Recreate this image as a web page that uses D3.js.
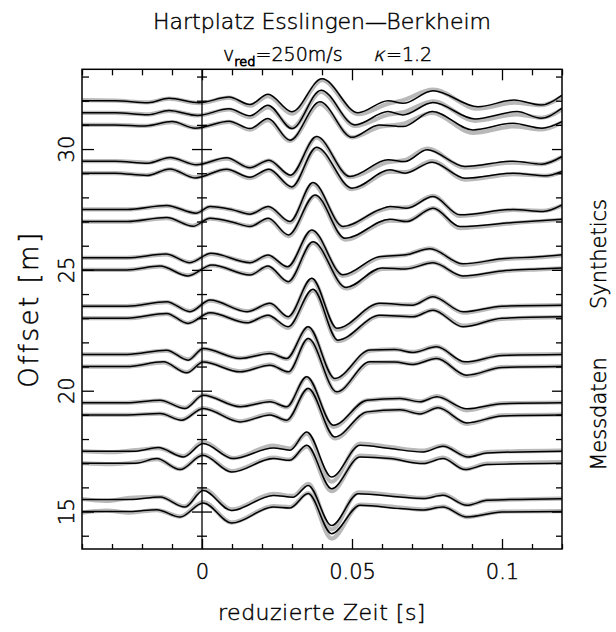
<!DOCTYPE html>
<html><head><meta charset="utf-8">
<script src="https://cdn.jsdelivr.net/npm/d3@7"></script>
<style>
html,body{margin:0;padding:0;background:#fff;}
svg{display:block;font-family:"DejaVu Sans",sans-serif;}
svg text{font-weight:200;fill:#000;stroke:#000;stroke-width:0.45px;}
</style></head><body>
<svg id="chart" width="616" height="632"></svg>
<script>
// Trace offsets (m), one wiggle trace per offset
const offsets = [32, 31.5, 31, 29.5, 29, 27.5, 27, 25.5, 25, 23.5, 23, 21.5, 21, 19.5, 19, 17.5, 17, 15.5, 15];

// Turning points of each trace: reduced time in ms
const knotMs = [
  [-40,-29,-18,-11,-1,9,16,22,30,40,52,62,67,77,92,104,113,120],
  [-40,-29,-18,-11,-1.5,9,16,22,30,39.7,51,62,67,77,91,105,113,120],
  [-40,-29,-19,-10,-2.3,9,16,22,29.3,39.3,50,59,67,76.7,90.3,103.7,113.3,120],
  [-40,-29,-18,-10.7,-1.8,8.2,16,22.3,29.5,38.2,49.3,62,67.7,75,87.7,103.7,113.3,120],
  [-40,-29,-18.4,-10.7,-2.3,8.2,16,22.3,29.9,38.2,50,62.7,67.7,76.7,87.7,103.7,114.7,120],
  [-40,-25,-11.8,-2,2.7,10.3,16,22.1,29.3,37,47,59.3,62.7,68.3,77,86,103.7,113.7,120],
  [-40,-25,-11.8,-3,2.7,10.3,16,22.1,28.8,37.7,47.7,62.7,68.3,77,86,103.7,120],
  [-40,-25,-12,-4,3,16,22,28.5,36.6,47,59,68,76,87,100,112,120],
  [-40,-25,-14,-4.7,3.3,16,22,28.7,37,48,60,68,77,87,100,112,120],
  [-40,-25,-11.8,-4,2.7,15,22.7,28.7,36.6,45,59.3,70.3,77,87,100,120],
  [-40,-25,-11.8,-4.7,2.7,15,22,28.7,37,45.3,59.3,70.3,77,87,100,120],
  [-40,-25,-11.8,-4.6,0.4,12.7,22.7,28.2,35.4,44.3,56,64.3,70.3,78.2,87.7,100,120],
  [-40,-25,-12.9,-5.1,0.4,12.7,22.7,28.8,35.4,44.9,56,64.3,70.3,78.2,88.2,100,120],
  [-40,-25,-14,-5.7,0.4,12.7,22.7,28.2,34.9,43.8,55,66,72.7,78.3,88.3,100,120],
  [-40,-25,-14,-6.8,0.4,12.7,22.7,28.2,35.4,44.3,55,66,72.7,78.7,88.3,100,120],
  [-40,-30,-22,-14.6,-6.2,0.4,10.4,23.8,29.3,34.9,43.2,52.7,62.7,73.7,80.3,88.7,95,120],
  [-40,-30,-22,-15.1,-7.3,0.3,9.9,23.8,29.3,34.9,43.2,52.7,62.7,73.7,80.3,87.7,95,120],
  [-40,-32,-24,-14,-5.7,0.4,9.9,23.8,30.4,35.4,43.2,52.1,66,73.7,80.3,88.3,95,120],
  [-40,-32,-24,-15.1,-7.3,0.4,9.9,23.8,29.3,35.4,43.2,52.7,66,73.7,80.3,88.3,100,120]
];

// Synthetic seismogram amplitudes at the turning points (trace units)
const synthetics = [
  [0,0,-2,2.4,-2,3.7,-3.8,6.5,-11,22,-12,0,-2.6,10,-6,0.7,-4.3,5.7],
  [0,0,-2,2.3,-2.7,4,-3,7.6,-15.8,22.6,-12.1,1.2,-2.1,10.2,-6.1,1.2,-5.4,4.6],
  [0,0,-1,3.3,-3.3,3.7,-3.7,6.3,-15.3,23,-12.3,0,-1.7,13.3,-5,1.7,-3.3,3.3],
  [0,0,-2,3.7,-3.7,3.3,-6.7,1,-14,24.5,-15.4,1.3,-0.4,11.3,-5.4,0,-3,4.6],
  [0,0,-2.3,4.3,-4.7,4,-4,4,-13.7,26,-15,3.4,0,11,-5,0,-2.6,1.7],
  [0,0,4,-3.7,3,-0.4,-4.7,3,-12,26.9,-17,0,3,1.3,12.9,-5.4,0,-2,4.6],
  [0,0,4,-4.7,3.3,-0.7,-5,3.3,-13.4,26.6,-16.7,2.3,0,13.3,-5,-1,2.3],
  [0,0,3.8,-4.9,4.5,-4.9,2.8,-9,27.8,-17,1,3,9,-6,-1,1,3],
  [0,0,3.9,-6.1,4.9,-5.1,3.9,-11.8,28,-17.5,2,1,7,-6,-1,1,2],
  [0,0,4.4,-5.6,6,-5.6,2.8,-10.6,27.8,-22.2,2.8,1,9.4,-5.6,0,1],
  [0,0,4.8,-5.2,5.4,-4.6,3,-8.6,29,-21.9,3,1.4,8,-8.6,0,1.4],
  [0,0,4.3,-5.7,6,-4,1,-4,27.6,-24,4.5,5,2,7.6,-7.4,-1,0],
  [0,0,4.7,-6.3,4.5,-5.3,1.4,-5.3,28,-25.3,4.7,4.5,2,8,-8.6,-1,0],
  [0,0,2.6,-5.7,7.5,-4,1,-4,26,-22.4,2.6,4.3,1,6,-6,-1,0],
  [0,0,1.3,-5.3,6.4,-7,0,-5.3,26.4,-22,3,5,1,7,-8,-1,0],
  [0,0,0,3.6,-5.8,7.6,-7.4,3.2,0.9,19.2,-25.8,5.9,2.6,-0.8,4.9,-5.8,-1.8,0],
  [0,0,0,4.6,-6.4,7.9,-8.8,4.6,2.9,17.9,-25.4,6.2,4.6,-0.4,4.6,-6.4,-1.4,0],
  [0,0,0,2.4,-7.6,9,-11,4,2.3,14,-26,5.7,2.4,1,4.1,-5.9,-0.9,0.8],
  [0,0,0,1.9,-5.5,8.5,-11.5,4.5,3.5,17.9,-22.1,6.2,3,1.5,4.5,-5.5,-0.5,0]
];

// Recorded field data (Messdaten) at the same turning points (trace units)
const messdaten = [
  [0.5,0,-1.6,2,-2.4,3,-5,4.5,-13,20.5,-13.5,-3,0.5,11,-8,-2,-4.5,4],
  [0,0,-1.6,2,-2.6,3.3,-4.4,5.5,-15,21,-13,-2,0.5,11.5,-8,-1.5,-5,3.6],
  [0,0,-1,2.8,-3,3,-4.8,4.8,-16,21,-12.5,-2,1,12,-8,-1.5,-4.5,2.5],
  [0,0,-1.6,3.2,-3.4,2.5,-6.5,0.5,-15,23.5,-16,-1,1,12.5,-6.5,-1.5,-3,4.2],
  [0,0,-1.8,3.8,-4.2,3.5,-5,3,-14.5,24.5,-16,1.5,1,12,-6.5,-1,-2.6,1.2],
  [0,0,3.5,-3.5,2.5,-0.5,-4.2,2,-13,25.5,-18,-1,1.5,2,13.5,-6.5,-0.5,-1.5,4],
  [0,0,3.5,-4.2,3,-1,-4.5,2.2,-14.5,25.5,-18,1,0.5,13.5,-6.5,-1.5,1.8],
  [0,0,3.4,-4.5,4,-4.5,2,-10,26.5,-18,0,3,9.5,-7,-1.5,0.5,2.5],
  [0,0,3.5,-5.5,4.4,-4.6,3,-12.5,27,-18.5,1,1.5,7.5,-7,-1.5,0.5,1.5],
  [0,0,4,-5,5.5,-5,2.2,-11.5,26.5,-23.5,2,1.5,9.8,-6.5,-0.5,1],
  [0,0,4.3,-4.8,5,-4.2,2.4,-9.6,27.5,-23,2.2,1.8,8.4,-7.5,-0.6,1],
  [0,0,3.8,-5,5.5,-3.6,1.6,-4.5,26.5,-25,3.8,5,2.5,8,-8.5,-0.5,0.4],
  [0,0,4.2,-5.6,4.8,-4.8,2,-6,27,-26,4,4.5,2.5,8.5,-9.5,-0.6,0.3],
  [0,0,2.2,-5,7.8,-3.6,1.6,-4.6,25,-24,2.4,4.5,1.4,6.6,-7.5,-0.5,0.3],
  [0,0,1.2,-4.8,6.8,-6.4,0.8,-5.8,25.5,-23.5,2.4,5,1.5,7.5,-9,-0.5,0.3],
  [0,-1,1,3,-5,9,-7,5.5,2.5,17.5,-30.5,7.6,4,0.5,5.5,-5.5,-1,0.5],
  [0,-1,1,4,-6,8.5,-8,5.5,3.5,16.5,-28,7.5,5,0.5,5.5,-6,-0.5,1],
  [0.5,-1.5,1.5,2.5,-7,10.5,-10,5.5,3.5,15.5,-30,7,3.5,1.5,5,-5.5,-1,0.8],
  [-1,1,-1,1.5,-5,9.5,-11,5.5,4.5,18.5,-27,7,4,2,5,-5.5,0,0.5]
];

// Axis ranges, ticks and labels
const timeDomain = [-0.04, 0.12];
const offsetDomain = [13.45, 33.3];
const xMajorTicks = [0, 0.05, 0.1];
const xTickLabels = ["0", "0.05", "0.1"];
const xMinorTicks = [-0.04, -0.03, -0.02, -0.01, 0.01, 0.02, 0.03, 0.04, 0.06, 0.07, 0.08, 0.09, 0.11, 0.12];
const yMajorTicks = [15, 20, 25, 30];
const yTickLabels = ["15", "20", "25", "30"];
const yMinorTicks = [14, 16, 17, 18, 19, 21, 22, 23, 24, 26, 27, 28, 29, 31, 32, 33];
const traceGain = 1 / 24.14;   // metres of offset per trace unit

const svg = d3.select("#chart");
const frame = {left: 82, right: 562, top: 69.3, bottom: 549};

const x = d3.scaleLinear().domain(timeDomain).range([frame.left, frame.right]);
const y = d3.scaleLinear().domain(offsetDomain).range([frame.bottom, frame.top]);

svg.append("defs").append("clipPath").attr("id", "plotclip")
  .append("rect").attr("x", frame.left).attr("y", frame.top)
  .attr("width", frame.right - frame.left).attr("height", frame.bottom - frame.top);

// wiggle traces
const line = d3.line()
  .x(d => x(d[0] / 1000))
  .y(d => y(d[1]))
  .curve(d3.curveMonotoneX);

const traces = svg.append("g").attr("clip-path", "url(#plotclip)");
const pts = (i, amps) => knotMs[i].map((t, k) => [t, offsets[i] + amps[k] * traceGain]);

traces.selectAll("path.meas").data(offsets).join("path")
  .attr("class", "meas")
  .attr("d", (d, i) => line(pts(i, messdaten[i])))
  .attr("fill", "none").attr("stroke", "#b9b9b9").attr("stroke-width", 4.2)
  .attr("stroke-linejoin", "round");

traces.selectAll("path.syn").data(offsets).join("path")
  .attr("class", "syn")
  .attr("d", (d, i) => line(pts(i, synthetics[i])))
  .attr("fill", "none").attr("stroke", "#000").attr("stroke-width", 1.5)
  .attr("stroke-linejoin", "round");

// zero-time line
svg.append("line")
  .attr("x1", x(0)).attr("x2", x(0)).attr("y1", frame.top).attr("y2", frame.bottom)
  .attr("stroke", "#000").attr("stroke-width", 1.3);

// axes (ticks point inward)
function styleAxis(g) {
  g.select(".domain").remove();
  g.selectAll(".tick line").attr("stroke", "#000").attr("stroke-width", 1.3);
}
const ax = (gen, tx, ty) => svg.append("g").attr("transform", `translate(${tx},${ty})`).call(gen).call(styleAxis);

ax(d3.axisBottom(x).tickValues(xMinorTicks).tickSize(-5).tickFormat(""), 0, frame.bottom);
const xLab = ax(d3.axisBottom(x).tickValues(xMajorTicks).tickSize(-10).tickPadding(15)
  .tickFormat((d, i) => xTickLabels[i]), 0, frame.bottom);
xLab.attr("font-family", null).attr("font-size", null);
xLab.selectAll("text").attr("font-family", "DejaVu Sans").attr("font-size", 21).attr("fill", "#000");
ax(d3.axisTop(x).tickValues(xMinorTicks).tickSize(-6).tickFormat(""), 0, frame.top);
ax(d3.axisTop(x).tickValues(xMajorTicks).tickSize(-11).tickFormat(""), 0, frame.top);

ax(d3.axisLeft(y).tickValues(yMinorTicks).tickSize(-7).tickFormat(""), frame.left, 0);
ax(d3.axisLeft(y).tickValues(yMajorTicks).tickSize(-12).tickFormat(""), frame.left, 0);
ax(d3.axisRight(y).tickValues(yMinorTicks).tickSize(-6).tickFormat(""), frame.right, 0);
ax(d3.axisRight(y).tickValues(yMajorTicks).tickSize(-10).tickFormat(""), frame.right, 0);
// ticks crossing the zero-time line
ax(d3.axisLeft(y).tickValues(yMinorTicks).tickSize(5).tickFormat(""), x(0), 0);
ax(d3.axisRight(y).tickValues(yMinorTicks).tickSize(5).tickFormat(""), x(0), 0);
ax(d3.axisLeft(y).tickValues(yMajorTicks).tickSize(10).tickFormat(""), x(0), 0);
ax(d3.axisRight(y).tickValues(yMajorTicks).tickSize(10).tickFormat(""), x(0), 0);

// frame
svg.append("rect")
  .attr("x", frame.left).attr("y", frame.top)
  .attr("width", frame.right - frame.left).attr("height", frame.bottom - frame.top)
  .attr("fill", "none").attr("stroke", "#000").attr("stroke-width", 1.5);

// rotated offset labels
svg.append("g").selectAll("text").data(yMajorTicks).join("text")
  .attr("transform", d => `translate(74,${y(d)}) rotate(-90)`)
  .attr("text-anchor", "middle").attr("font-size", 21)
  .text((d, i) => yTickLabels[i]);

// titles
const plotMid = (frame.left + frame.right) / 2;
svg.append("text").attr("x", plotMid).attr("y", 29).attr("text-anchor", "middle")
  .attr("font-size", 22).text("Hartplatz Esslingen—Berkheim");

const sub = svg.append("text").attr("x", 223).attr("y", 61).attr("font-size", 19);
sub.append("tspan").text("v");
sub.append("tspan").attr("font-size", 13).attr("dy", 5).style("stroke-width", "0.9px").text("red");
sub.append("tspan").attr("dy", -5).text("=250m/s");
svg.append("text").attr("transform", "translate(373,61) skewX(-14)").attr("font-size", 19).text("κ");
svg.append("text").attr("x", 386).attr("y", 61).attr("font-size", 19).text("=1.2");

svg.append("text").attr("x", plotMid).attr("y", 620).attr("text-anchor", "middle")
  .attr("font-size", 22).attr("letter-spacing", 0.5).text("reduzierte Zeit [s]");

svg.append("text").attr("transform", `translate(38,${(frame.top + frame.bottom) / 2}) rotate(-90)`)
  .attr("text-anchor", "middle").attr("font-size", 26).attr("letter-spacing", 2.5).text("Offset [m]");

svg.append("text").attr("transform", "translate(606,254) rotate(-90)")
  .attr("text-anchor", "middle").attr("font-size", 21).text("Synthetics");
svg.append("text").attr("transform", "translate(606,414) rotate(-90)")
  .attr("text-anchor", "middle").attr("font-size", 21).text("Messdaten");
</script>
</body></html>
